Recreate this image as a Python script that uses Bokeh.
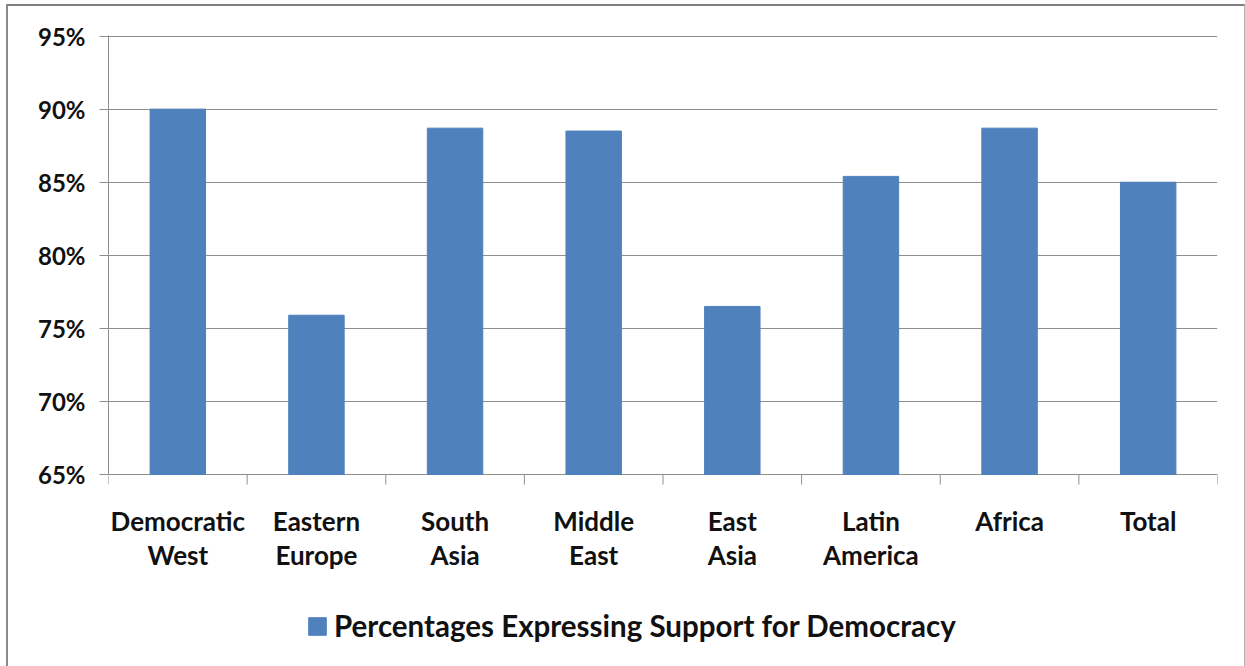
import numpy as np
from bokeh.plotting import figure
from bokeh.models import (ColumnDataSource, Range1d, LinearAxis, FixedTicker,
                          PrintfTickFormatter, Legend, LegendItem, InlineStyleSheet)
from bokeh.core.properties import value
from bokeh.embed import file_html
from bokeh.resources import INLINE

# Data
regions = ["Democratic\nWest", "Eastern\nEurope", "South\nAsia", "Middle\nEast",
           "East\nAsia", "Latin\nAmerica", "Africa", "Total"]
support_pct = [90.0, 75.9, 88.7, 88.5, 76.5, 85.4, 88.7, 85.0]
y_ticks = [65, 70, 75, 80, 85, 90, 95]
series_name = "Percentages Expressing Support for Democracy"

FONT = "Lato"
BAR = "#4F81BD"
GRID = "#8f8f8f"
INK = "#111111"

W, H = 1245, 666
TOP, LEFT, RIGHT = 35, 108, 28
AXIS_Y = 474                      # pixel row of the 65% baseline
y_min, y_max = y_ticks[0], y_ticks[-1] + 0.04
px_per_unit = (AXIS_Y - TOP) / (y_max - y_min)
y_floor = y_max - (H - TOP) / px_per_unit   # frame runs to the bottom of the canvas

n = len(regions)
slot_center = np.arange(n) + 0.5
slot_edges = np.arange(n + 1)
source = ColumnDataSource(data=dict(x=slot_center, region=regions, pct=support_pct))

p = figure(width=W, height=H, output_backend="svg", toolbar_location=None,
           x_range=Range1d(0, n), y_range=Range1d(y_floor, y_max),
           min_border_left=LEFT, min_border_right=RIGHT, min_border_top=TOP, min_border_bottom=0,
           x_axis_location=None, y_axis_location=None)
p.outline_line_color = None
p.background_fill_color = "white"
p.border_fill_color = "white"

bars = p.vbar(x="x", top="pct", bottom=y_min, width=0.4, source=source,
              fill_color=BAR, line_color=BAR)

# y axis with percent labels
yaxis = LinearAxis(ticker=FixedTicker(ticks=y_ticks), bounds=(y_min, y_max),
                   formatter=PrintfTickFormatter(format="%d%%"))
yaxis.axis_line_color = GRID
yaxis.major_tick_line_color = GRID
yaxis.major_tick_out = 9
yaxis.major_tick_in = 0
yaxis.minor_tick_line_color = None
yaxis.major_label_standoff = 14
yaxis.major_label_text_font = FONT
yaxis.major_label_text_font_style = "bold"
yaxis.major_label_text_font_size = "24px"
yaxis.major_label_text_color = INK
p.add_layout(yaxis, "left")

p.ygrid.ticker = FixedTicker(ticks=y_ticks)
p.ygrid.grid_line_color = GRID
p.ygrid.grid_line_width = 1
p.xgrid.grid_line_color = None

# category axis: tick marks between slots and labels under each bar
tick_len = 10 / px_per_unit
p.segment(x0=slot_edges, y0=[y_min] * (n + 1), x1=slot_edges, y1=[y_min - tick_len] * (n + 1),
          line_color=GRID, line_width=1)
p.text(x=slot_center, y=[y_min] * n, text=regions, y_offset=30,
       text_align="center", text_baseline="top", text_font=value(FONT),
       text_font_style="bold", text_font_size="26px", text_color=INK,
       text_line_height=1.07)

legend = Legend(items=[LegendItem(label=series_name, renderers=[bars])],
                location=(198, 23), orientation="horizontal")
legend.border_line_color = None
legend.background_fill_alpha = 0
legend.padding = 0
legend.margin = 0
legend.glyph_width = 22
legend.glyph_height = 22
legend.label_standoff = 6
legend.label_text_font = FONT
legend.label_text_font_style = "bold"
legend.label_text_font_size = "29.5px"
legend.label_text_color = INK
p.add_layout(legend, "center")

# chart-area border drawn around the canvas
p.stylesheets = [InlineStyleSheet(css="""
:host { position: relative; }
:host::after {
  content: ""; position: absolute; pointer-events: none; box-sizing: border-box;
  left: 6px; top: 4px; width: 1239px; height: 700px;
  border-left: 2px solid #8a8a8a; border-top: 2px solid #808080;
  border-right: 1px solid #b4b4b4;
}
""")]

open("out.html", "w").write(file_html(p, INLINE))
